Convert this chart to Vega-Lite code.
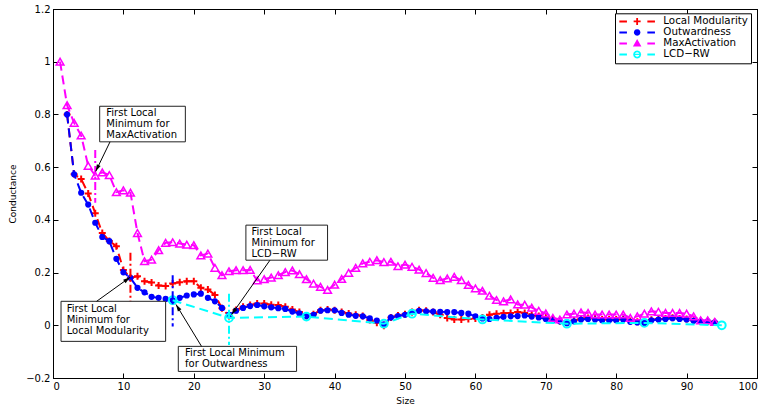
{
  "$schema": "https://vega.github.io/schema/vega-lite/v6.json",
  "width": 704,
  "height": 369,
  "autosize": {"type": "none"},
  "padding": {"left": 53, "top": 9, "right": 9, "bottom": 30},
  "background": "white",
  "config": {
    "font": "DejaVu Sans",
    "view": {"stroke": "#000000", "strokeWidth": 1},
    "axis": {
      "grid": false,
      "domainColor": "#000000",
      "domainWidth": 1,
      "tickColor": "#000000",
      "tickWidth": 1,
      "tickSize": -5,
      "labelColor": "#000000",
      "labelFont": "DejaVu Sans",
      "labelFontSize": 10,
      "labelPadding": 8,
      "titleColor": "#000000",
      "titleFont": "DejaVu Sans",
      "titleFontSize": 9,
      "titleFontWeight": "normal"
    }
  },
  "datasets": {
    "lm": [
      {"size":2,"cond":0.8},{"size":3,"cond":0.573},{"size":4,"cond":0.555},{"size":5,"cond":0.5},{"size":6,"cond":0.425},{"size":7,"cond":0.35},{"size":8,"cond":0.32},{"size":9,"cond":0.3},{"size":10,"cond":0.21},{"size":11,"cond":0.18},
      {"size":12,"cond":0.186},{"size":13,"cond":0.167},{"size":14,"cond":0.162},{"size":15,"cond":0.151},{"size":16,"cond":0.149},{"size":17,"cond":0.159},{"size":18,"cond":0.163},{"size":19,"cond":0.167},{"size":20,"cond":0.167},{"size":21,"cond":0.142},
      {"size":22,"cond":0.136},{"size":23,"cond":0.115},{"size":24,"cond":0.065},{"size":25,"cond":0.035},{"size":26,"cond":0.058},{"size":27,"cond":0.07},{"size":28,"cond":0.077},{"size":29,"cond":0.083},{"size":30,"cond":0.083},{"size":31,"cond":0.078},
      {"size":32,"cond":0.077},{"size":33,"cond":0.07},{"size":34,"cond":0.06},{"size":35,"cond":0.05},{"size":36,"cond":0.035},{"size":37,"cond":0.042},{"size":38,"cond":0.057},{"size":39,"cond":0.06},{"size":40,"cond":0.057},{"size":41,"cond":0.05},
      {"size":42,"cond":0.045},{"size":43,"cond":0.04},{"size":44,"cond":0.035},{"size":45,"cond":0.02},{"size":46,"cond":0.01},{"size":47,"cond":-0.002},{"size":48,"cond":0.03},{"size":49,"cond":0.037},{"size":50,"cond":0.042},{"size":51,"cond":0.05},
      {"size":52,"cond":0.057},{"size":53,"cond":0.055},{"size":54,"cond":0.05},{"size":55,"cond":0.04},{"size":56,"cond":0.028},{"size":57,"cond":0.022},{"size":58,"cond":0.022},{"size":59,"cond":0.024},{"size":60,"cond":0.026},{"size":61,"cond":0.03},
      {"size":62,"cond":0.04},{"size":63,"cond":0.044},{"size":64,"cond":0.046},{"size":65,"cond":0.047},{"size":66,"cond":0.05},{"size":67,"cond":0.047},{"size":68,"cond":0.04},{"size":69,"cond":0.035},{"size":70,"cond":0.03},{"size":71,"cond":0.022},
      {"size":72,"cond":0.015},{"size":73,"cond":0.01},{"size":74,"cond":0.018},{"size":75,"cond":0.025},{"size":76,"cond":0.028},{"size":77,"cond":0.026},{"size":78,"cond":0.022},{"size":79,"cond":0.022},{"size":80,"cond":0.022},{"size":81,"cond":0.024},
      {"size":82,"cond":0.016},{"size":83,"cond":0.013},{"size":84,"cond":0.012},{"size":85,"cond":0.021},{"size":86,"cond":0.024},{"size":87,"cond":0.026},{"size":88,"cond":0.029},{"size":89,"cond":0.026},{"size":90,"cond":0.024},{"size":91,"cond":0.019},
      {"size":92,"cond":0.016},{"size":93,"cond":0.015},{"size":94,"cond":0.012}
    ],
    "ow": [
      {"size":2,"cond":0.8},{"size":3,"cond":0.573},{"size":4,"cond":0.503},{"size":5,"cond":0.458},{"size":6,"cond":0.389},{"size":7,"cond":0.335},{"size":8,"cond":0.319},{"size":9,"cond":0.252},{"size":10,"cond":0.201},{"size":11,"cond":0.18},
      {"size":12,"cond":0.142},{"size":13,"cond":0.125},{"size":14,"cond":0.108},{"size":15,"cond":0.104},{"size":16,"cond":0.1},{"size":17,"cond":0.095},{"size":18,"cond":0.104},{"size":19,"cond":0.113},{"size":20,"cond":0.117},{"size":21,"cond":0.12},
      {"size":22,"cond":0.104},{"size":23,"cond":0.091},{"size":24,"cond":0.066},{"size":25,"cond":0.04},{"size":26,"cond":0.055},{"size":27,"cond":0.066},{"size":28,"cond":0.073},{"size":29,"cond":0.077},{"size":30,"cond":0.072},{"size":31,"cond":0.068},
      {"size":32,"cond":0.065},{"size":33,"cond":0.062},{"size":34,"cond":0.052},{"size":35,"cond":0.045},{"size":36,"cond":0.035},{"size":37,"cond":0.04},{"size":38,"cond":0.055},{"size":39,"cond":0.057},{"size":40,"cond":0.057},{"size":41,"cond":0.047},
      {"size":42,"cond":0.04},{"size":43,"cond":0.036},{"size":44,"cond":0.034},{"size":45,"cond":0.026},{"size":46,"cond":0.018},{"size":47,"cond":0.004},{"size":48,"cond":0.03},{"size":49,"cond":0.035},{"size":50,"cond":0.04},{"size":51,"cond":0.05},
      {"size":52,"cond":0.055},{"size":53,"cond":0.053},{"size":54,"cond":0.052},{"size":55,"cond":0.051},{"size":56,"cond":0.05},{"size":57,"cond":0.05},{"size":58,"cond":0.047},{"size":59,"cond":0.044},{"size":60,"cond":0.034},{"size":61,"cond":0.026},
      {"size":62,"cond":0.024},{"size":63,"cond":0.028},{"size":64,"cond":0.032},{"size":65,"cond":0.034},{"size":66,"cond":0.035},{"size":67,"cond":0.037},{"size":68,"cond":0.033},{"size":69,"cond":0.03},{"size":70,"cond":0.024},{"size":71,"cond":0.019},
      {"size":72,"cond":0.015},{"size":73,"cond":0.008},{"size":74,"cond":0.015},{"size":75,"cond":0.022},{"size":76,"cond":0.024},{"size":77,"cond":0.022},{"size":78,"cond":0.019},{"size":79,"cond":0.019},{"size":80,"cond":0.019},{"size":81,"cond":0.022},
      {"size":82,"cond":0.013},{"size":83,"cond":0.011},{"size":84,"cond":0.009},{"size":85,"cond":0.019},{"size":86,"cond":0.022},{"size":87,"cond":0.024},{"size":88,"cond":0.027},{"size":89,"cond":0.024},{"size":90,"cond":0.022},{"size":91,"cond":0.017},
      {"size":92,"cond":0.015},{"size":93,"cond":0.015},{"size":94,"cond":0.011}
    ],
    "ma": [
      {"size":1,"cond":1.0},{"size":2,"cond":0.835},{"size":3,"cond":0.768},{"size":4,"cond":0.72},{"size":5,"cond":0.605},{"size":6,"cond":0.568},{"size":7,"cond":0.58},{"size":8,"cond":0.57},{"size":9,"cond":0.505},{"size":10,"cond":0.512},
      {"size":11,"cond":0.503},{"size":12,"cond":0.35},{"size":13,"cond":0.243},{"size":14,"cond":0.249},{"size":15,"cond":0.285},{"size":16,"cond":0.313},{"size":17,"cond":0.315},{"size":18,"cond":0.31},{"size":19,"cond":0.306},{"size":20,"cond":0.304},
      {"size":21,"cond":0.265},{"size":22,"cond":0.272},{"size":23,"cond":0.218},{"size":24,"cond":0.19},{"size":25,"cond":0.205},{"size":26,"cond":0.209},{"size":27,"cond":0.209},{"size":28,"cond":0.21},{"size":29,"cond":0.17},{"size":30,"cond":0.175},
      {"size":31,"cond":0.181},{"size":32,"cond":0.19},{"size":33,"cond":0.202},{"size":34,"cond":0.208},{"size":35,"cond":0.194},{"size":36,"cond":0.175},{"size":37,"cond":0.158},{"size":38,"cond":0.146},{"size":39,"cond":0.134},{"size":40,"cond":0.154},
      {"size":41,"cond":0.176},{"size":42,"cond":0.199},{"size":43,"cond":0.218},{"size":44,"cond":0.235},{"size":45,"cond":0.241},{"size":46,"cond":0.247},{"size":47,"cond":0.24},{"size":48,"cond":0.241},{"size":49,"cond":0.224},{"size":50,"cond":0.23},
      {"size":51,"cond":0.222},{"size":52,"cond":0.211},{"size":53,"cond":0.198},{"size":54,"cond":0.18},{"size":55,"cond":0.171},{"size":56,"cond":0.178},{"size":57,"cond":0.184},{"size":58,"cond":0.171},{"size":59,"cond":0.153},{"size":60,"cond":0.14},
      {"size":61,"cond":0.131},{"size":62,"cond":0.112},{"size":63,"cond":0.096},{"size":64,"cond":0.091},{"size":65,"cond":0.098},{"size":66,"cond":0.079},{"size":67,"cond":0.078},{"size":68,"cond":0.067},{"size":69,"cond":0.055},{"size":70,"cond":0.045},
      {"size":71,"cond":0.028},{"size":72,"cond":0.022},{"size":73,"cond":0.041},{"size":74,"cond":0.044},{"size":75,"cond":0.049},{"size":76,"cond":0.047},{"size":77,"cond":0.041},{"size":78,"cond":0.041},{"size":79,"cond":0.041},{"size":80,"cond":0.041},
      {"size":81,"cond":0.041},{"size":82,"cond":0.028},{"size":83,"cond":0.034},{"size":84,"cond":0.044},{"size":85,"cond":0.053},{"size":86,"cond":0.051},{"size":87,"cond":0.047},{"size":88,"cond":0.047},{"size":89,"cond":0.047},{"size":90,"cond":0.044},
      {"size":91,"cond":0.034},{"size":92,"cond":0.019},{"size":93,"cond":0.019},{"size":94,"cond":0.013}
    ],
    "lcd": [
      {"size":17,"cond":0.095},{"size":25,"cond":0.028},{"size":36,"cond":0.033},{"size":47,"cond":0.006},{"size":51,"cond":0.044},{"size":61,"cond":0.022},{"size":73,"cond":0.006},{"size":84,"cond":0.009},{"size":95,"cond":0.0}
    ],
    "minima": [
      {"series":"MaxActivation","size":6,"top":0.665,"bottom":0.465},
      {"series":"Local Modularity","size":11,"top":0.275,"bottom":0.075},
      {"series":"Outwardness","size":17,"top":0.19,"bottom":-0.005},
      {"series":"LCD−RW","size":25,"top":0.12,"bottom":-0.075}
    ],
    "boxes": [
      {"x":6.63,"x2":18.8,"y":0.831,"y2":0.696},
      {"x":1.14,"x2":16.0,"y":0.091,"y2":-0.061},
      {"x":17.8,"x2":34.6,"y":-0.08,"y2":-0.175},
      {"x":27.4,"x2":39.0,"y":0.38,"y2":0.247}
    ],
    "labels": [
      {"text":"First Local","x":7.57,"y":0.805},
      {"text":"Minimum for","x":7.57,"y":0.763},
      {"text":"MaxActivation","x":7.57,"y":0.721},
      {"text":"First Local","x":1.94,"y":0.063},
      {"text":"Minimum for","x":1.94,"y":0.021},
      {"text":"Local Modularity","x":1.94,"y":-0.021},
      {"text":"First Local Minimum","x":18.75,"y":-0.106},
      {"text":"for Outwardness","x":18.75,"y":-0.148},
      {"text":"First Local","x":28.2,"y":0.353},
      {"text":"Minimum for","x":28.2,"y":0.311},
      {"text":"LCD−RW","x":28.2,"y":0.269}
    ],
    "arrows": [
      {"x":8.1,"y":0.696,"x2":6.07,"y2":0.584,"angle":205.5},
      {"x":6.2,"y":0.091,"x2":10.94,"y2":0.182,"angle":54},
      {"x":21.1,"y":-0.08,"x2":17.47,"y2":0.079,"angle":328.3},
      {"x":30.82,"y":0.247,"x2":25.38,"y2":0.041,"angle":215.2}
    ],
    "keys": [
      {"series":"Local Modularity"},{"series":"Outwardness"},{"series":"MaxActivation"},{"series":"LCD−RW"}
    ]
  },
  "resolve": {"axis": {"x": "independent", "y": "independent"}},
  "layer": [
    {
      "data": {"name": "lm"},
      "mark": {"type": "line", "color": "#ff0000", "strokeWidth": 2, "strokeDash": [9, 5]},
      "encoding": {
        "x": {"field": "size", "type": "quantitative",
          "scale": {"domain": [0, 100], "nice": false, "zero": false},
          "axis": {"orient": "bottom", "values": [0,10,20,30,40,50,60,70,80,90,100], "title": "Size",
            "titleX": 352, "titleY": 22, "titleBaseline": "middle", "titleAlign": "center"}},
        "y": {"field": "cond", "type": "quantitative",
          "scale": {"domain": [-0.2, 1.2], "nice": false, "zero": false},
          "axis": {"orient": "left", "values": [-0.2,0,0.2,0.4,0.6,0.8,1,1.2], "format": ".1~f", "title": "Conductance",
            "titleX": -41, "titleY": 184.5, "titleAngle": -90, "titleBaseline": "middle", "titleAlign": "center"}}
      }
    },
    {
      "data": {"name": "lm"},
      "mark": {"type": "point", "shape": "M-1,0H1M0,-1V1", "filled": false, "color": "#ff0000", "size": 49, "strokeWidth": 2, "opacity": 1},
      "encoding": {
        "x": {"field": "size", "type": "quantitative",
          "axis": {"orient": "top", "values": [0,10,20,30,40,50,60,70,80,90,100], "labels": false, "title": null}},
        "y": {"field": "cond", "type": "quantitative",
          "axis": {"orient": "right", "values": [-0.2,0,0.2,0.4,0.6,0.8,1,1.2], "labels": false, "title": null}}
      }
    },
    {
      "data": {"name": "ow"},
      "mark": {"type": "line", "color": "#0000ff", "strokeWidth": 2, "strokeDash": [9, 5]},
      "encoding": {
        "x": {"field": "size", "type": "quantitative", "axis": null},
        "y": {"field": "cond", "type": "quantitative", "axis": null}
      }
    },
    {
      "data": {"name": "ow"},
      "mark": {"type": "point", "shape": "circle", "filled": true, "color": "#0000ff", "size": 38, "opacity": 1},
      "encoding": {
        "x": {"field": "size", "type": "quantitative", "axis": null},
        "y": {"field": "cond", "type": "quantitative", "axis": null}
      }
    },
    {
      "data": {"name": "ma"},
      "mark": {"type": "line", "color": "#ff00ff", "strokeWidth": 2, "strokeDash": [9, 5]},
      "encoding": {
        "x": {"field": "size", "type": "quantitative", "axis": null},
        "y": {"field": "cond", "type": "quantitative", "axis": null}
      }
    },
    {
      "data": {"name": "ma"},
      "mark": {"type": "point", "shape": "triangle-up", "filled": false, "color": "#ff00ff", "size": 60, "strokeWidth": 1.5, "opacity": 1},
      "encoding": {
        "x": {"field": "size", "type": "quantitative", "axis": null},
        "y": {"field": "cond", "type": "quantitative", "axis": null}
      }
    },
    {
      "data": {"name": "lcd"},
      "mark": {"type": "line", "color": "#00ffff", "strokeWidth": 2, "strokeDash": [9, 5]},
      "encoding": {
        "x": {"field": "size", "type": "quantitative", "axis": null},
        "y": {"field": "cond", "type": "quantitative", "axis": null}
      }
    },
    {
      "data": {"name": "lcd"},
      "mark": {"type": "point", "shape": "circle", "filled": false, "color": "#00ffff", "size": 60, "strokeWidth": 2, "opacity": 1},
      "encoding": {
        "x": {"field": "size", "type": "quantitative", "axis": null},
        "y": {"field": "cond", "type": "quantitative", "axis": null}
      }
    },
    {
      "data": {"name": "minima"},
      "transform": [{"filter": "datum.series === 'MaxActivation'"}],
      "mark": {"type": "rule", "strokeWidth": 2, "strokeDash": [8, 3, 2, 3], "color": "#ff00ff"},
      "encoding": {
        "x": {"field": "size", "type": "quantitative", "axis": null},
        "y": {"field": "top", "type": "quantitative", "axis": null},
        "y2": {"field": "bottom"}
      }
    },
    {
      "data": {"name": "minima"},
      "transform": [{"filter": "datum.series === 'Local Modularity'"}],
      "mark": {"type": "rule", "strokeWidth": 2, "strokeDash": [8, 3, 2, 3], "color": "#ff0000"},
      "encoding": {
        "x": {"field": "size", "type": "quantitative", "axis": null},
        "y": {"field": "top", "type": "quantitative", "axis": null},
        "y2": {"field": "bottom"}
      }
    },
    {
      "data": {"name": "minima"},
      "transform": [{"filter": "datum.series === 'Outwardness'"}],
      "mark": {"type": "rule", "strokeWidth": 2, "strokeDash": [8, 3, 2, 3], "color": "#0000ff"},
      "encoding": {
        "x": {"field": "size", "type": "quantitative", "axis": null},
        "y": {"field": "top", "type": "quantitative", "axis": null},
        "y2": {"field": "bottom"}
      }
    },
    {
      "data": {"name": "minima"},
      "transform": [{"filter": "datum.series === 'LCD−RW'"}],
      "mark": {"type": "rule", "strokeWidth": 2, "strokeDash": [8, 3, 2, 3], "color": "#00ffff"},
      "encoding": {
        "x": {"field": "size", "type": "quantitative", "axis": null},
        "y": {"field": "top", "type": "quantitative", "axis": null},
        "y2": {"field": "bottom"}
      }
    },
    {
      "data": {"name": "boxes"},
      "mark": {"type": "rect", "fill": "#ffffff", "stroke": "#222222", "strokeWidth": 1},
      "encoding": {
        "x": {"field": "x", "type": "quantitative", "axis": null},
        "x2": {"field": "x2"},
        "y": {"field": "y", "type": "quantitative", "axis": null},
        "y2": {"field": "y2"}
      }
    },
    {
      "data": {"name": "labels"},
      "mark": {"type": "text", "align": "left", "baseline": "middle", "font": "DejaVu Sans", "fontSize": 10, "color": "#000000"},
      "encoding": {
        "x": {"field": "x", "type": "quantitative", "axis": null},
        "y": {"field": "y", "type": "quantitative", "axis": null},
        "text": {"field": "text"}
      }
    },
    {
      "data": {"name": "arrows"},
      "mark": {"type": "rule", "color": "#000000", "strokeWidth": 1},
      "encoding": {
        "x": {"field": "x", "type": "quantitative", "axis": null},
        "y": {"field": "y", "type": "quantitative", "axis": null},
        "x2": {"field": "x2"},
        "y2": {"field": "y2"}
      }
    },
    {
      "data": {"name": "arrows"},
      "mark": {"type": "point", "shape": "M0,0L0.6,2L-0.6,2Z", "filled": true, "color": "#000000", "size": 49, "opacity": 1},
      "encoding": {
        "x": {"field": "x2", "type": "quantitative", "axis": null},
        "y": {"field": "y2", "type": "quantitative", "axis": null},
        "angle": {"field": "angle", "type": "quantitative", "scale": null}
      }
    },
    {
      "data": {"name": "keys"},
      "mark": {"type": "point", "filled": true, "opacity": 0, "size": 100},
      "encoding": {
        "color": {"field": "series", "type": "nominal",
          "scale": {"domain": ["Local Modularity", "Outwardness", "MaxActivation", "LCD−RW"], "range": ["#ff0000", "#0000ff", "#ff00ff", "#00ffff"]},
          "legend": {"orient": "none", "legendX": 562, "legendY": 4.3, "title": null, "strokeColor": "#000000", "fillColor": "#ffffff", "padding": 3,
            "labelFont": "DejaVu Sans", "labelFontSize": 10.3, "labelColor": "#000000", "rowPadding": 0, "symbolSize": 100, "symbolStrokeWidth": 0,
            "symbolOffset": 14, "labelOffset": 21, "symbolOpacity": 1}},
        "shape": {"field": "series", "type": "nominal",
          "scale": {"domain": ["Local Modularity", "Outwardness", "MaxActivation", "LCD−RW"],
            "range": [
              "M-3.56,-0.2H-2.04V0.2H-3.56Z M2.04,-0.2H3.56V0.2H2.04Z M-0.7,-0.18H0.7V0.18H-0.7Z M-0.18,-0.7H0.18V0.7H-0.18Z",
              "M-3.56,-0.2H-2.04V0.2H-3.56Z M2.04,-0.2H3.56V0.2H2.04Z M0.66,0L0.572,0.33L0.33,0.572L0,0.66L-0.33,0.572L-0.572,0.33L-0.66,0L-0.572,-0.33L-0.33,-0.572L0,-0.66L0.33,-0.572L0.572,-0.33Z",
              "M-3.56,-0.2H-2.04V0.2H-3.56Z M2.04,-0.2H3.56V0.2H2.04Z M0,-0.9L0.85,0.6L-0.85,0.6Z",
              "M-3.56,-0.2H-2.04V0.2H-3.56Z M2.04,-0.2H3.56V0.2H2.04Z M0.8,0L0.693,0.4L0.4,0.693L0,0.8L-0.4,0.693L-0.693,0.4L-0.8,0L-0.693,-0.4L-0.4,-0.693L0,-0.8L0.4,-0.693L0.693,-0.4Z M0.45,0L0.39,-0.225L0.225,-0.39L0,-0.45L-0.225,-0.39L-0.39,-0.225L-0.45,0L-0.39,0.225L-0.225,0.39L0,0.45L0.225,0.39L0.39,0.225Z M-0.45,-0.12H0.45V0.12H-0.45Z"
            ]},
          "legend": {"orient": "none", "legendX": 562, "legendY": 4.3, "title": null, "strokeColor": "#000000", "fillColor": "#ffffff", "padding": 3,
            "labelFont": "DejaVu Sans", "labelFontSize": 10.3, "labelColor": "#000000", "rowPadding": 0, "symbolSize": 100, "symbolStrokeWidth": 0,
            "symbolOffset": 14, "labelOffset": 21, "symbolOpacity": 1}}
      }
    }
  ]
}
